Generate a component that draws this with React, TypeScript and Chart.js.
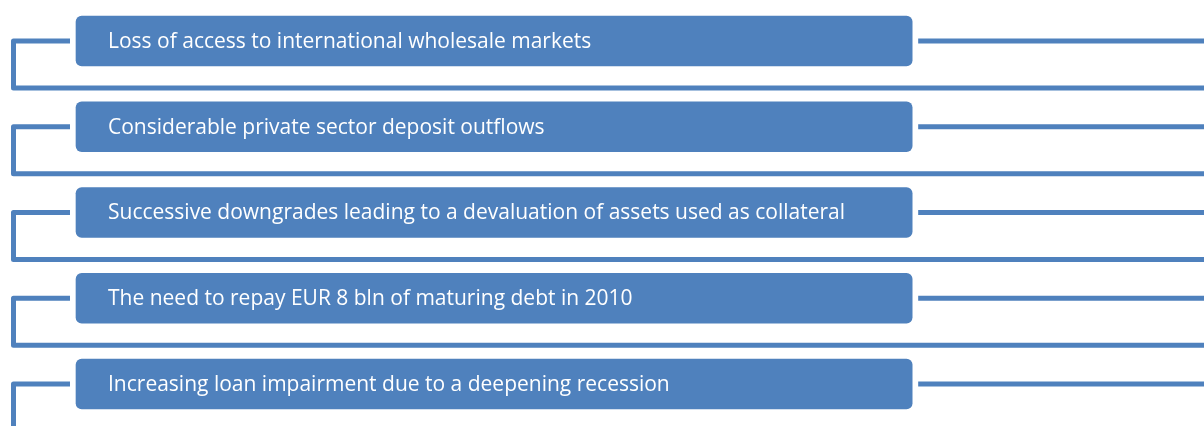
import React, { useEffect, useRef } from "react";
import { Chart, registerables } from "chart.js";

Chart.register(...registerables);

// Diagram content
const items: string[] = [
  "Loss of access to international wholesale markets",
  "Considerable private sector deposit outflows",
  "Successive downgrades leading to a devaluation of assets used as collateral",
  "The need to repay EUR 8 bln of maturing debt in 2010",
  "Increasing loan impairment due to a deepening recession",
];
// row index of each box (y value) and box extent on the x scale (unit span)
const rows: number[] = [0, 1, 2, 3, 4];
const boxStart: number[] = [0, 0, 0, 0, 0];
const boxEnd: number[] = [1, 1, 1, 1, 1];

const BLUE = "#4F81BD";

const connectorPlugin = {
  id: "connectors",
  beforeDatasetsDraw(chart: any) {
    const { ctx, scales } = chart;
    const xs = scales.x;
    const ys = scales.y;
    const W = chart.width;
    const H = chart.height;
    ctx.save();
    ctx.strokeStyle = BLUE;
    ctx.lineWidth = 5;
    ctx.lineJoin = "round";
    ctx.lineCap = "butt";
    const railX = 13.5;
    rows.forEach((r, i) => {
      const y = ys.getPixelForValue(r);
      const xl = xs.getPixelForValue(boxStart[i]) - 6;
      const xr = xs.getPixelForValue(boxEnd[i]) + 6;
      // right stub
      ctx.beginPath();
      ctx.moveTo(xr, y);
      ctx.lineTo(W + 4, y);
      ctx.stroke();
      // left elbow
      ctx.beginPath();
      ctx.moveTo(xl, y);
      ctx.lineTo(railX, y);
      if (i < rows.length - 1) {
        const yb = ys.getPixelForValue(r + 0.548);
        ctx.lineTo(railX, yb);
        ctx.lineTo(W + 4, yb);
      } else {
        ctx.lineTo(railX, H + 10);
      }
      ctx.stroke();
    });
    ctx.restore();
  },
  afterDatasetsDraw(chart: any) {
    const { ctx } = chart;
    const meta = chart.getDatasetMeta(0);
    ctx.save();
    ctx.fillStyle = "#FFFFFF";
    ctx.font = '21px "Open Sans"';
    ctx.textBaseline = "middle";
    ctx.textAlign = "left";
    meta.data.forEach((bar: any, i: number) => {
      const left = Math.min(bar.base, bar.x);
      ctx.fillText(items[i], left + 32, bar.y + 1);
    });
    ctx.restore();
  },
};

export default function App() {
  const ref = useRef<HTMLCanvasElement | null>(null);
  useEffect(() => {
    document.body.style.margin = "0";
    const canvas = ref.current;
    if (!canvas) return;
    const chart = new Chart(canvas, {
      type: "bar",
      data: {
        labels: items,
        datasets: [
          {
            data: rows.map((r, i) => ({ x: [boxStart[i], boxEnd[i]], y: r })) as any,
            backgroundColor: BLUE,
            borderWidth: 0,
            borderRadius: 6,
            borderSkipped: false,
            barThickness: 50,
          },
        ],
      },
      options: {
        indexAxis: "y",
        responsive: false,
        animation: false,
        devicePixelRatio: 1,
        layout: { padding: 0 },
        plugins: {
          legend: { display: false },
          tooltip: { enabled: false },
        },
        scales: {
          x: {
            type: "linear",
            display: false,
            offset: false,
            min: -0.0909,
            max: 1.349,
          },
          y: {
            type: "linear",
            display: false,
            offset: false,
            grid: { offset: false },
            reverse: true,
            min: -0.478,
            max: 4.49,
          },
        },
      },
      plugins: [connectorPlugin],
    });
    return () => chart.destroy();
  }, []);
  return (
    <div style={{ width: 1204, height: 426 }}>
      <canvas ref={ref} width={1204} height={426} />
    </div>
  );
}
